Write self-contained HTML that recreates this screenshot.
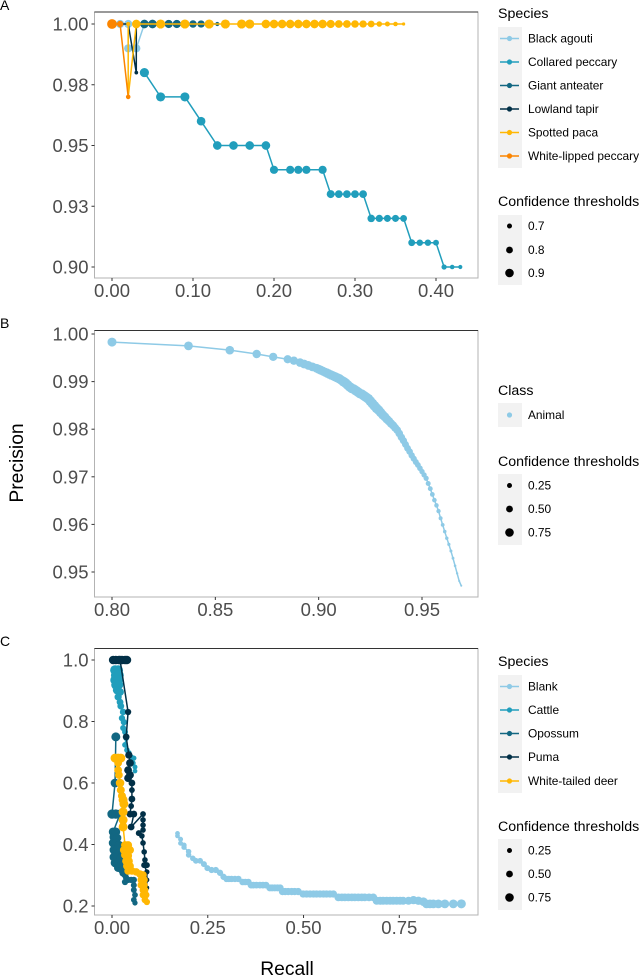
<!DOCTYPE html>
<html>
<head>
<meta charset="utf-8">
<title>Precision-recall curves</title>
<style>
html,body{margin:0;padding:0;background:#fff;}
svg{display:block;font-family:"Liberation Sans",sans-serif;}
.leg-title{font-size:14.2px;fill:#000;}
.leg-label{font-size:11.9px;fill:#000;}
.tick-label{font-size:18.5px;fill:#4d4d4d;}
.axis-title{font-size:19.3px;fill:#000;}
.tag{font-size:14px;fill:#000;}
</style>
</head>
<body>
<svg id="chart" xmlns="http://www.w3.org/2000/svg" width="640" height="976" viewBox="0 0 640 976">
  <rect width="640" height="976" fill="#fff"/>
  <text class="tag" x="0" y="10">A</text>
  <text class="tag" x="0" y="328">B</text>
  <text class="tag" x="0" y="646">C</text>
  <text class="axis-title" x="0" y="0" transform="translate(23,463) rotate(-90)" text-anchor="middle">Precision</text>
  <text class="axis-title" x="287" y="975" text-anchor="middle">Recall</text>

  <g id="plots"></g>

  <g>
    <text class="leg-title" x="498" y="18">Species</text>
    <rect x="498" y="27" width="24" height="141" fill="#f2f2f2"/>
    <g><path d="M500 38.5H519" stroke="#8ecae6" stroke-width="1.5"/><circle cx="509.5" cy="38.5" r="2.6" fill="#8ecae6"/><text class="leg-label" x="528" y="42.5">Black agouti</text></g>
    <g><path d="M500 62H519" stroke="#219ebc" stroke-width="1.5"/><circle cx="509.5" cy="62" r="2.6" fill="#219ebc"/><text class="leg-label" x="528" y="66">Collared peccary</text></g>
    <g><path d="M500 85.5H519" stroke="#126782" stroke-width="1.5"/><circle cx="509.5" cy="85.5" r="2.6" fill="#126782"/><text class="leg-label" x="528" y="89.5">Giant anteater</text></g>
    <g><path d="M500 109H519" stroke="#023047" stroke-width="1.5"/><circle cx="509.5" cy="109" r="2.6" fill="#023047"/><text class="leg-label" x="528" y="113">Lowland tapir</text></g>
    <g><path d="M500 132.500H519" stroke="#ffb703" stroke-width="1.5"/><circle cx="509.5" cy="132.500" r="2.6" fill="#ffb703"/><text class="leg-label" x="528" y="136.500">Spotted paca</text></g>
    <g><path d="M500 156H519" stroke="#fb8500" stroke-width="1.5"/><circle cx="509.5" cy="156" r="2.6" fill="#fb8500"/><text class="leg-label" x="528" y="160">White-lipped peccary</text></g>
  </g>
  <g>
    <text class="leg-title" x="498" y="206">Confidence thresholds</text>
    <rect x="498" y="215" width="24" height="70" fill="#f2f2f2"/>
    <g><circle cx="509.5" cy="226" r="2.5" fill="#000"/><text class="leg-label" x="528" y="230">0.7</text></g>
    <g><circle cx="509.5" cy="250" r="3.4" fill="#000"/><text class="leg-label" x="528" y="254">0.8</text></g>
    <g><circle cx="509.5" cy="273" r="4.3" fill="#000"/><text class="leg-label" x="528" y="277">0.9</text></g>
  </g>

  <g>
    <text class="leg-title" x="498" y="395">Class</text>
    <rect x="498" y="403" width="24" height="24" fill="#f2f2f2"/>
    <g><circle cx="509.5" cy="415" r="2.6" fill="#8ecae6"/><text class="leg-label" x="528" y="419">Animal</text></g>
  </g>
  <g>
    <text class="leg-title" x="498" y="466">Confidence thresholds</text>
    <rect x="498" y="474" width="24" height="71" fill="#f2f2f2"/>
    <g><circle cx="509.5" cy="485.500" r="2.5" fill="#000"/><text class="leg-label" x="528" y="489.500">0.25</text></g>
    <g><circle cx="509.5" cy="509" r="3.4" fill="#000"/><text class="leg-label" x="528" y="513">0.50</text></g>
    <g><circle cx="509.5" cy="532.500" r="4.3" fill="#000"/><text class="leg-label" x="528" y="536.500">0.75</text></g>
  </g>

  <g>
    <text class="leg-title" x="498" y="666">Species</text>
    <rect x="498" y="675" width="24" height="118" fill="#f2f2f2"/>
    <g><path d="M500 686.500H519" stroke="#8ecae6" stroke-width="1.5"/><circle cx="509.5" cy="686.500" r="2.6" fill="#8ecae6"/><text class="leg-label" x="528" y="690.500">Blank</text></g>
    <g><path d="M500 710H519" stroke="#219ebc" stroke-width="1.5"/><circle cx="509.5" cy="710" r="2.6" fill="#219ebc"/><text class="leg-label" x="528" y="714">Cattle</text></g>
    <g><path d="M500 733.500H519" stroke="#126782" stroke-width="1.5"/><circle cx="509.5" cy="733.500" r="2.6" fill="#126782"/><text class="leg-label" x="528" y="737.500">Opossum</text></g>
    <g><path d="M500 757H519" stroke="#023047" stroke-width="1.5"/><circle cx="509.5" cy="757" r="2.6" fill="#023047"/><text class="leg-label" x="528" y="761">Puma</text></g>
    <g><path d="M500 781H519" stroke="#ffb703" stroke-width="1.5"/><circle cx="509.5" cy="781" r="2.6" fill="#ffb703"/><text class="leg-label" x="528" y="785">White-tailed deer</text></g>
  </g>
  <g>
    <text class="leg-title" x="498" y="831">Confidence thresholds</text>
    <rect x="498" y="839" width="24" height="71" fill="#f2f2f2"/>
    <g><circle cx="509.5" cy="850.500" r="2.5" fill="#000"/><text class="leg-label" x="528" y="854.500">0.25</text></g>
    <g><circle cx="509.5" cy="874" r="3.4" fill="#000"/><text class="leg-label" x="528" y="878">0.50</text></g>
    <g><circle cx="509.5" cy="897.500" r="4.3" fill="#000"/><text class="leg-label" x="528" y="901.500">0.75</text></g>
  </g>
</svg>
<script>
// Panel A
var aXTicks = [0, 0.1, 0.2, 0.3, 0.4];
var aXLabels = ["0.00", "0.10", "0.20", "0.30", "0.40"];
var aYTicks = [1, 0.975, 0.95, 0.925, 0.9];
var aYLabels = ["1.00", "0.98", "0.95", "0.93", "0.90"];
var agoutiRecall = [0.01, 0.02, 0.02, 0.03, 0.04, 0.05];
var agoutiPrecision = [1, 1, 0.99, 0.99, 1, 1];
var agoutiConf = [0.88, 0.88, 0.88, 0.88, 0.75, 0.72];
var collaredRecall = [0.04, 0.06, 0.09, 0.11, 0.13, 0.15, 0.17, 0.19, 0.20, 0.22, 0.23, 0.24, 0.26, 0.27, 0.28, 0.29, 0.30, 0.31, 0.32, 0.33, 0.34, 0.35, 0.36, 0.37, 0.38, 0.39, 0.40, 0.41, 0.42, 0.43];
var collaredPrecision = [0.98, 0.97, 0.97, 0.96, 0.95, 0.95, 0.95, 0.95, 0.94, 0.94, 0.94, 0.94, 0.94, 0.93, 0.93, 0.93, 0.93, 0.93, 0.92, 0.92, 0.92, 0.92, 0.92, 0.91, 0.91, 0.91, 0.91, 0.90, 0.90, 0.90];
var collaredConf = [0.92, 0.92, 0.92, 0.9, 0.9, 0.9, 0.9, 0.9, 0.88, 0.88, 0.88, 0.88, 0.88, 0.87, 0.86, 0.86, 0.86, 0.86, 0.85, 0.84, 0.83, 0.83, 0.82, 0.82, 0.8, 0.8, 0.78, 0.75, 0.72, 0.7];
var anteaterRecall = [0.04, 0.05, 0.07, 0.08, 0.10, 0.11, 0.13];
var anteaterPrecision = [1, 1, 1, 1, 1, 1, 1];
var anteaterConf = [0.9, 0.9, 0.88, 0.88, 0.85, 0.84, 0.7];
var tapirRecall = [0.01, 0.02, 0.03, 0.03];
var tapirPrecision = [1, 1, 0.98, 1];
var tapirConf = [0.68, 0.68, 0.68, 0.68];
var pacaRecall = [0.02, 0.02, 0.03, 0.06, 0.09, 0.12, 0.14, 0.16, 0.17, 0.19, 0.20, 0.21, 0.22, 0.23, 0.24, 0.25, 0.26, 0.27, 0.28, 0.29, 0.30, 0.31, 0.32, 0.33, 0.34, 0.35, 0.36];
var pacaPrecision = [1, 0.97, 1, 1, 1, 1, 1, 1, 1, 1, 1, 1, 1, 1, 1, 1, 1, 1, 1, 1, 1, 1, 1, 1, 1, 1, 1];
var pacaConf = [0.7, 0.66, 0.9, 0.92, 0.92, 0.92, 0.92, 0.92, 0.92, 0.9, 0.9, 0.9, 0.9, 0.9, 0.9, 0.9, 0.9, 0.88, 0.86, 0.86, 0.85, 0.84, 0.82, 0.76, 0.74, 0.72, 0.66];
var peccaryRecall = [0, 0.01, 0.02];
var peccaryPrecision = [1, 1, 0.97];
var peccaryConf = [0.95, 0.8, 0.72];

// Panel B
var bXTicks = [0.8, 0.85, 0.9, 0.95];
var bXLabels = ["0.80", "0.85", "0.90", "0.95"];
var bYTicks = [1, 0.99, 0.98, 0.97, 0.96, 0.95];
var bYLabels = ["1.00", "0.99", "0.98", "0.97", "0.96", "0.95"];
var animalRecall = [0.800, 0.837, 0.857, 0.870, 0.878, 0.885, 0.888, 0.891, 0.893, 0.895, 0.897, 0.899, 0.900, 0.901, 0.902, 0.903, 0.904, 0.905, 0.906, 0.907, 0.908, 0.909, 0.910, 0.911,
  0.912, 0.913, 0.914, 0.915, 0.916, 0.917, 0.918, 0.919, 0.920, 0.921, 0.922, 0.923, 0.924, 0.925, 0.926, 0.927, 0.928,
  0.929, 0.930, 0.931, 0.932, 0.933, 0.934, 0.935, 0.936, 0.937, 0.938,
  0.939, 0.940, 0.941, 0.942, 0.943, 0.944, 0.945, 0.946, 0.947, 0.948,
  0.949, 0.950, 0.951, 0.952, 0.953, 0.954, 0.955, 0.956, 0.957, 0.958,
  0.959, 0.960, 0.961, 0.962, 0.963, 0.964, 0.965, 0.966, 0.967, 0.968, 0.969];
var animalPrecision = [0.9983, 0.9975, 0.9966, 0.9958, 0.9952, 0.9947, 0.9944, 0.9940, 0.9937, 0.9934, 0.9931, 0.9928, 0.9926, 0.9924, 0.9922, 0.9920, 0.9918, 0.9916, 0.9914, 0.9912, 0.9910, 0.9908, 0.9906, 0.9903,
  0.9900, 0.9897, 0.9893, 0.9889, 0.9886, 0.9884, 0.9881, 0.9878, 0.9875, 0.9873, 0.9870, 0.9867, 0.9864, 0.9859, 0.9854, 0.9849, 0.9844,
  0.9840, 0.9835, 0.9830, 0.9826, 0.9821, 0.9817, 0.9812, 0.9808, 0.9803, 0.9798,
  0.9791, 0.9783, 0.9776, 0.9768, 0.9760, 0.9753, 0.9745, 0.9738, 0.9731, 0.9725,
  0.9718, 0.9711, 0.9704, 0.9697, 0.9686, 0.9675, 0.9663, 0.9651, 0.9640, 0.9628,
  0.9613, 0.9599, 0.9585, 0.9571, 0.9558, 0.9544, 0.9529, 0.9513, 0.9497, 0.9481, 0.9471];
var animalConf = [0.72, 0.7, 0.68, 0.66, 0.65, 0.64, 0.66, 0.68, 0.7, 0.7, 0.7, 0.7, 0.72, 0.72, 0.72, 0.72, 0.74, 0.74, 0.74, 0.74, 0.76, 0.76, 0.76, 0.76,
  0.8, 0.8, 0.8, 0.8, 0.8, 0.8, 0.8, 0.8, 0.8, 0.8, 0.8, 0.8, 0.8, 0.8, 0.8, 0.8, 0.8,
  0.78, 0.76, 0.74, 0.72, 0.7, 0.68, 0.66, 0.64, 0.62, 0.6,
  0.58, 0.56, 0.54, 0.52, 0.5, 0.48, 0.46, 0.44, 0.42, 0.4,
  0.38, 0.36, 0.35, 0.34, 0.32, 0.31, 0.3, 0.28, 0.27, 0.25,
  0.22, 0.2, 0.18, 0.16, 0.14, 0.12, 0.1, 0.08, 0.06, 0.03, 0.02];

// Panel C
var cXTicks = [0, 0.25, 0.5, 0.75];
var cXLabels = ["0.00", "0.25", "0.50", "0.75"];
var cYTicks = [1, 0.8, 0.6, 0.4, 0.2];
var cYLabels = ["1.0", "0.8", "0.6", "0.4", "0.2"];
var blankRecall = [0.171, 0.171, 0.179, 0.179, 0.188, 0.188, 0.200, 0.200, 0.211, 0.219,
  0.230, 0.240, 0.249, 0.260, 0.271, 0.282, 0.291, 0.299, 0.305, 0.312,
  0.321, 0.330, 0.341, 0.348, 0.356, 0.363, 0.369, 0.377, 0.386, 0.394,
  0.402, 0.412, 0.418, 0.425, 0.432, 0.439, 0.445, 0.452, 0.460, 0.469,
  0.477, 0.486, 0.499, 0.508, 0.517, 0.526, 0.534, 0.543, 0.552, 0.560,
  0.569, 0.578, 0.591, 0.600, 0.608, 0.617, 0.626, 0.634, 0.643, 0.652,
  0.660, 0.671, 0.682, 0.691, 0.700, 0.708, 0.717, 0.726, 0.734, 0.743,
  0.752, 0.760, 0.774, 0.787, 0.800, 0.813, 0.821, 0.830, 0.839, 0.852,
  0.869, 0.891, 0.912];
var blankPrecision = [0.436, 0.428, 0.417, 0.404, 0.398, 0.391, 0.377, 0.366, 0.355, 0.347,
  0.347, 0.336, 0.323, 0.317, 0.317, 0.308, 0.295, 0.288, 0.288, 0.288,
  0.288, 0.288, 0.278, 0.278, 0.278, 0.268, 0.268, 0.268, 0.268, 0.268,
  0.268, 0.259, 0.259, 0.259, 0.259, 0.259, 0.247, 0.247, 0.247, 0.247,
  0.247, 0.247, 0.239, 0.239, 0.239, 0.239, 0.239, 0.239, 0.239, 0.239,
  0.239, 0.239, 0.228, 0.228, 0.228, 0.228, 0.228, 0.228, 0.228, 0.228,
  0.228, 0.228, 0.228, 0.217, 0.217, 0.217, 0.217, 0.217, 0.217, 0.217,
  0.217, 0.217, 0.217, 0.219, 0.217, 0.214, 0.207, 0.207, 0.207, 0.207,
  0.207, 0.207, 0.207];
var blankConf = [0.3, 0.3, 0.32, 0.32, 0.35, 0.35, 0.37, 0.37, 0.38, 0.4,
  0.4, 0.42, 0.42, 0.44, 0.44, 0.45, 0.45, 0.46, 0.46, 0.46,
  0.46, 0.46, 0.48, 0.48, 0.48, 0.5, 0.5, 0.5, 0.5, 0.5,
  0.5, 0.52, 0.52, 0.52, 0.52, 0.52, 0.55, 0.55, 0.55, 0.55,
  0.55, 0.55, 0.55, 0.55, 0.55, 0.55, 0.55, 0.55, 0.55, 0.55,
  0.55, 0.55, 0.6, 0.6, 0.6, 0.6, 0.6, 0.6, 0.6, 0.6,
  0.6, 0.6, 0.6, 0.62, 0.62, 0.62, 0.62, 0.62, 0.62, 0.62,
  0.62, 0.62, 0.62, 0.65, 0.65, 0.68, 0.7, 0.7, 0.7, 0.7,
  0.7, 0.7, 0.72];
var cattleRecall = [0.008, 0.016, 0.010, 0.018, 0.008, 0.016, 0.010, 0.018, 0.013, 0.021, 0.016, 0.021, 0.023, 0.029, 0.026, 0.031, 0.029, 0.034, 0.037, 0.034, 0.039, 0.044, 0.050, 0.057, 0.055, 0.060, 0.060];
var cattlePrecision = [0.967, 0.967, 0.951, 0.951, 0.935, 0.935, 0.919, 0.919, 0.902, 0.896, 0.880, 0.863, 0.850, 0.831, 0.811, 0.798, 0.779, 0.766, 0.746, 0.724, 0.707, 0.698, 0.685, 0.681, 0.665, 0.652, 0.639];
var cattleConf = [0.8, 0.8, 0.8, 0.8, 0.78, 0.78, 0.75, 0.7, 0.65, 0.6, 0.55, 0.5, 0.5, 0.48, 0.45, 0.45, 0.42, 0.42, 0.4, 0.4, 0.38, 0.38, 0.35, 0.35, 0.35, 0.32, 0.3];
var opossumRecall = [0.010, 0.008, 0.000, 0.010, 0.021, 0.003, 0.010, 0.005, 0.013, 0.003, 0.010, 0.018, 0.005, 0.013, 0.021, 0.005, 0.013, 0.023, 0.008, 0.016, 0.023, 0.016, 0.026, 0.029, 0.034, 0.037, 0.034, 0.042, 0.050, 0.057, 0.057, 0.057, 0.060, 0.057, 0.060];
var opossumPrecision = [0.750, 0.600, 0.499, 0.499, 0.499, 0.441, 0.441, 0.424, 0.421, 0.405, 0.405, 0.398, 0.382, 0.382, 0.376, 0.359, 0.359, 0.356, 0.340, 0.340, 0.333, 0.324, 0.317, 0.307, 0.301, 0.291, 0.278, 0.285, 0.285, 0.285, 0.268, 0.252, 0.236, 0.220, 0.210];
var opossumConf = [0.72, 0.7, 0.75, 0.75, 0.72, 0.7, 0.7, 0.7, 0.7, 0.7, 0.7, 0.7, 0.7, 0.7, 0.7, 0.7, 0.7, 0.7, 0.7, 0.7, 0.65, 0.65, 0.6, 0.55, 0.5, 0.45, 0.45, 0.45, 0.45, 0.45, 0.42, 0.42, 0.4, 0.4, 0.35];
var pumaRecall = [0.003, 0.010, 0.018, 0.026, 0.034, 0.039, 0.021, 0.042, 0.037, 0.044, 0.047, 0.042, 0.047, 0.042, 0.052, 0.052, 0.052, 0.050, 0.047, 0.057, 0.050, 0.081, 0.081, 0.081, 0.081, 0.070, 0.078, 0.081, 0.084, 0.086, 0.091, 0.084, 0.091, 0.091, 0.091];
var pumaPrecision = [1, 1, 1, 1, 1, 1, 1, 0.831, 0.750, 0.691, 0.665, 0.642, 0.626, 0.616, 0.600, 0.577, 0.548, 0.525, 0.499, 0.499, 0.457, 0.499, 0.480, 0.463, 0.447, 0.437, 0.428, 0.405, 0.376, 0.350, 0.333, 0.333, 0.311, 0.285, 0.259];
var pumaConf = [0.68, 0.68, 0.68, 0.68, 0.68, 0.68, 0.68, 0.45, 0.5, 0.55, 0.6, 0.6, 0.6, 0.6, 0.5, 0.4, 0.5, 0.4, 0.5, 0.5, 0.5, 0.4, 0.38, 0.38, 0.38, 0.42, 0.38, 0.38, 0.38, 0.38, 0.42, 0.42, 0.35, 0.32, 0.3];
var deerRecall = [0.008, 0.016, 0.023, 0.016, 0.016, 0.018, 0.021, 0.023, 0.026, 0.029, 0.031, 0.029, 0.029, 0.029, 0.034, 0.042, 0.031, 0.039, 0.047, 0.034, 0.042, 0.037, 0.044, 0.039, 0.047, 0.042, 0.052, 0.063, 0.073, 0.081, 0.076, 0.084, 0.076, 0.084, 0.081, 0.086, 0.081, 0.089, 0.086, 0.091];
var deerPrecision = [0.681, 0.681, 0.681, 0.665, 0.642, 0.626, 0.600, 0.577, 0.558, 0.545, 0.532, 0.506, 0.480, 0.457, 0.398, 0.398, 0.382, 0.382, 0.382, 0.366, 0.363, 0.346, 0.346, 0.330, 0.330, 0.314, 0.314, 0.311, 0.304, 0.301, 0.285, 0.285, 0.268, 0.268, 0.252, 0.252, 0.236, 0.236, 0.220, 0.213];
var deerConf = [0.72, 0.72, 0.72, 0.6, 0.6, 0.6, 0.68, 0.62, 0.62, 0.72, 0.72, 0.72, 0.72, 0.72, 0.62, 0.62, 0.62, 0.62, 0.62, 0.62, 0.62, 0.62, 0.62, 0.6, 0.6, 0.58, 0.58, 0.58, 0.58, 0.58, 0.55, 0.55, 0.55, 0.55, 0.52, 0.52, 0.52, 0.5, 0.5, 0.45];

var SVG_NS = "http://www.w3.org/2000/svg";
var plots = document.getElementById("plots");

function linear(d0, d1, r0, r1) {
  return function (v) { return r0 + (v - d0) * (r1 - r0) / (d1 - d0); };
}
function make(tag, parent) {
  var el = document.createElementNS(SVG_NS, tag);
  parent.appendChild(el);
  return el;
}
function drawPanel(slug, box, xScale, yScale, xTicks, xLabels, yTicks, yLabels) {
  var g = make("g", plots);
  
  
  var border = make("rect", g);
  
  
  border.setAttribute("x", box.l);
  border.setAttribute("y", box.t);
  border.setAttribute("width", box.r - box.l);
  border.setAttribute("height", box.b - box.t);
  border.setAttribute("fill", "#fff");
  border.setAttribute("stroke", "#b3b3b3");
  border.setAttribute("stroke-width", "1");
  var top = make("line", g);
  
  
  top.setAttribute("x1", box.l);
  top.setAttribute("x2", box.r);
  top.setAttribute("y1", box.t);
  top.setAttribute("y2", box.t);
  top.setAttribute("stroke", "#333");
  top.setAttribute("stroke-width", "1");
  xTicks.forEach(function (v, i) {
    var x = xScale(v);
    var t = make("line", g);
    
    
    t.setAttribute("x1", x);
    t.setAttribute("x2", x);
    t.setAttribute("y1", box.b);
    t.setAttribute("y2", box.b + 3);
    t.setAttribute("stroke", "#333");
    var lab = make("text", g);
    
    
    lab.setAttribute("class", "tick-label");
    lab.setAttribute("x", x);
    lab.setAttribute("y", box.b + 19);
    lab.setAttribute("text-anchor", "middle");
    lab.textContent = xLabels[i];
  });
  yTicks.forEach(function (v, i) {
    var y = yScale(v);
    var t = make("line", g);
    
    
    t.setAttribute("x1", box.l - 3);
    t.setAttribute("x2", box.l);
    t.setAttribute("y1", y);
    t.setAttribute("y2", y);
    t.setAttribute("stroke", "#333");
    var lab = make("text", g);
    
    
    lab.setAttribute("class", "tick-label");
    lab.setAttribute("x", box.l - 6);
    lab.setAttribute("y", y + 6.5);
    lab.setAttribute("text-anchor", "end");
    lab.textContent = yLabels[i];
  });
  return g;
}
function drawSeries(parent, slug, color, recall, precision, conf, xScale, yScale, rScale) {
  var g = make("g", parent);
  
  
  var pts = recall.map(function (v, i) { return xScale(v).toFixed(2) + "," + yScale(precision[i]).toFixed(2); });
  var line = make("polyline", g);
  
  
  line.setAttribute("points", pts.join(" "));
  line.setAttribute("fill", "none");
  line.setAttribute("stroke", color);
  line.setAttribute("stroke-width", "1.5");
  recall.forEach(function (v, i) {
    var c = make("circle", g);
    
    
    c.setAttribute("cx", xScale(v).toFixed(2));
    c.setAttribute("cy", yScale(precision[i]).toFixed(2));
    c.setAttribute("r", rScale(conf[i]).toFixed(2));
    c.setAttribute("fill", color);
  });
}

var C_AGOUTI = "#8ecae6", C_COLLARED = "#219ebc", C_ANTEATER = "#126782", C_TAPIR = "#023047", C_PACA = "#ffb703", C_PECCARY = "#fb8500";

var ax = linear(0, 0.4, 112, 436);
var ay = linear(1, 0.9, 24, 267);
var ar = linear(0.65, 0.95, 1.5, 4.9);
var panelA = drawPanel("a", {l: 94.5, r: 478, t: 12, b: 278}, ax, ay, aXTicks, aXLabels, aYTicks, aYLabels);
drawSeries(panelA, "black-agouti", C_AGOUTI, agoutiRecall, agoutiPrecision, agoutiConf, ax, ay, ar);
drawSeries(panelA, "collared-peccary", C_COLLARED, collaredRecall, collaredPrecision, collaredConf, ax, ay, ar);
drawSeries(panelA, "giant-anteater", C_ANTEATER, anteaterRecall, anteaterPrecision, anteaterConf, ax, ay, ar);
drawSeries(panelA, "lowland-tapir", C_TAPIR, tapirRecall, tapirPrecision, tapirConf, ax, ay, ar);
drawSeries(panelA, "spotted-paca", C_PACA, pacaRecall, pacaPrecision, pacaConf, ax, ay, ar);
drawSeries(panelA, "white-lipped-peccary", C_PECCARY, peccaryRecall, peccaryPrecision, peccaryConf, ax, ay, ar);

var bx = linear(0.8, 0.95, 112, 422);
var by = linear(1, 0.95, 334, 572);
var br = linear(0, 1, 0.9, 5.9);
var panelB = drawPanel("b", {l: 94.5, r: 478, t: 330.5, b: 597}, bx, by, bXTicks, bXLabels, bYTicks, bYLabels);
drawSeries(panelB, "animal", C_AGOUTI, animalRecall, animalPrecision, animalConf, bx, by, br);

var cx = linear(0, 0.75, 112, 399.3);
var cy = linear(1, 0.2, 660, 906);
var cr = linear(0, 1, 0.9, 5.9);
var panelC = drawPanel("c", {l: 94.5, r: 478, t: 648.5, b: 915}, cx, cy, cXTicks, cXLabels, cYTicks, cYLabels);
drawSeries(panelC, "blank", C_AGOUTI, blankRecall, blankPrecision, blankConf, cx, cy, cr);
drawSeries(panelC, "cattle", C_COLLARED, cattleRecall, cattlePrecision, cattleConf, cx, cy, cr);
drawSeries(panelC, "opossum", C_ANTEATER, opossumRecall, opossumPrecision, opossumConf, cx, cy, cr);
drawSeries(panelC, "puma", C_TAPIR, pumaRecall, pumaPrecision, pumaConf, cx, cy, cr);
drawSeries(panelC, "white-tailed-deer", C_PACA, deerRecall, deerPrecision, deerConf, cx, cy, cr);
</script>
</body>
</html>
